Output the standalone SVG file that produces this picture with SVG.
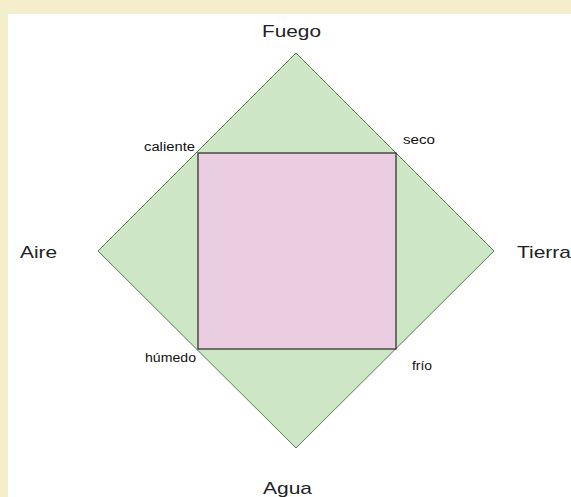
<svg xmlns="http://www.w3.org/2000/svg" width="571" height="497" viewBox="0 0 571 497">
<style>
.lbl{font-family:"Liberation Sans",Arial,sans-serif;font-size:17px;fill:#222}
.sm{font-family:"Liberation Sans",Arial,sans-serif;font-size:12px;fill:#111}
</style>
<rect x="0" y="0" width="571" height="497" fill="#ffffff"/>
<rect x="0" y="0" width="571" height="14" fill="#f5eecb"/>
<rect x="0" y="0" width="8" height="497" fill="#f5eecb"/>
<g id="diamond">
<polygon points="296,53 494,251 296,448 98,251" fill="#cde6c6" stroke="#557f48" stroke-width="1"/>
</g>
<g id="square">
<rect x="198" y="153" width="198" height="196" fill="#ebcde2" stroke="#333333" stroke-width="1.3"/>
</g>
<g id="labels">
<text class="lbl" x="262" y="37" textLength="59" lengthAdjust="spacingAndGlyphs">Fuego</text>
<text class="lbl" x="20" y="258" textLength="37" lengthAdjust="spacingAndGlyphs">Aire</text>
<text class="lbl" x="517" y="258" textLength="54" lengthAdjust="spacingAndGlyphs">Tierra</text>
<text class="lbl" x="263" y="494" textLength="49" lengthAdjust="spacingAndGlyphs">Agua</text>
<text class="sm" x="144" y="151" textLength="51" lengthAdjust="spacingAndGlyphs">caliente</text>
<text class="sm" x="403" y="144" textLength="32" lengthAdjust="spacingAndGlyphs">seco</text>
<text class="sm" x="145" y="362" textLength="51" lengthAdjust="spacingAndGlyphs">húmedo</text>
<text class="sm" x="412" y="370" textLength="20" lengthAdjust="spacingAndGlyphs">frío</text>
</g>
</svg>
